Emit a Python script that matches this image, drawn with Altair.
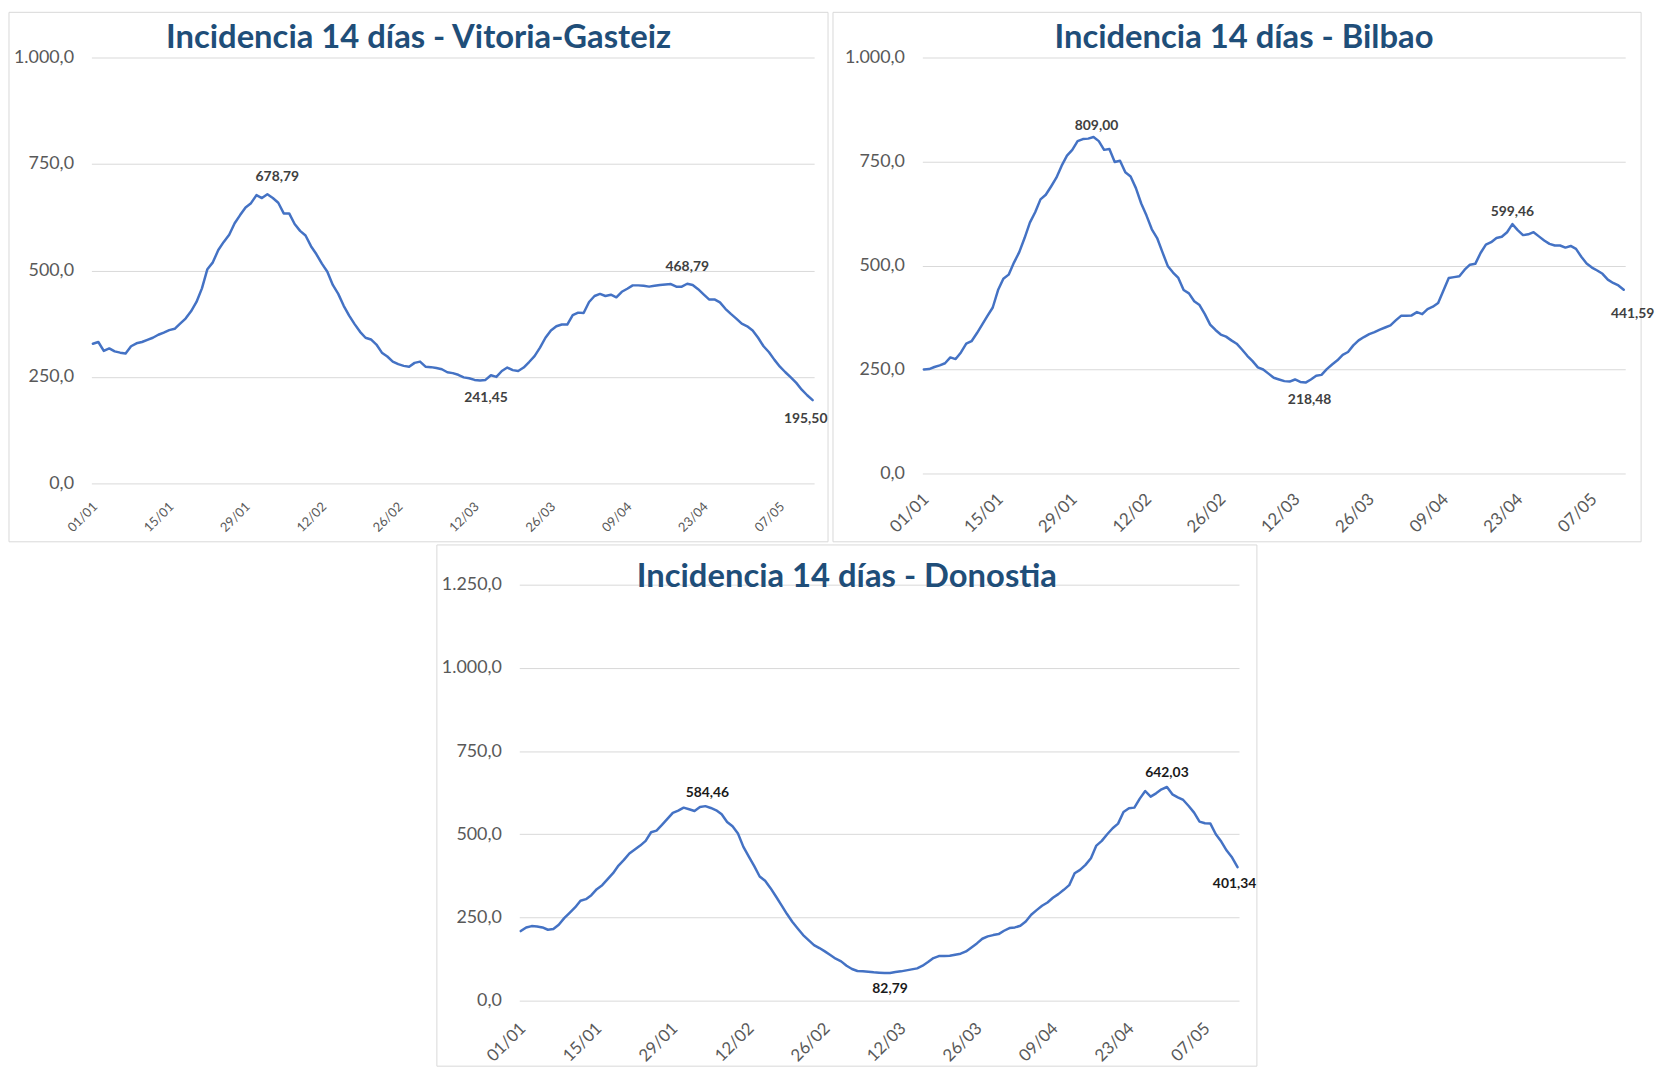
import altair as alt
import pandas as pd

# ---------------- data ----------------
START_DATE = "2021-01-01"
N_DAYS = 133

VITORIA = [
    328, 332, 311, 317, 310, 307, 305, 322, 329, 332,
    337, 342, 349, 354, 360, 363, 375, 387, 404, 426,
    458, 503, 519, 548, 567, 584, 611, 630, 648, 658,
    677, 670, 678.79, 670, 659, 634, 634, 609, 593, 582,
    557, 538, 516, 497, 466, 445, 417, 394, 374, 356,
    342, 338, 326, 307, 298, 286, 280, 276, 274, 283,
    286, 274, 273, 271, 268, 261, 259, 255, 249, 247,
    243, 241.45, 243, 254, 250, 264, 272, 266, 264, 272,
    285, 299, 319, 342, 359, 369, 373, 373, 395, 401,
    400, 426, 440, 445, 440, 443, 437, 450, 457, 465,
    465, 464, 462, 464, 466, 467, 468, 462, 462, 468.79,
    466, 456, 444, 432, 432, 425, 410, 398, 387, 375,
    369, 359, 342, 322, 308, 290, 274, 261, 249, 236,
    220, 207, 195.50,
]

BILBAO = [
    250, 251, 256, 260, 265, 279, 275, 291, 312, 318,
    337, 358, 379, 399, 441, 468, 478, 507, 532, 566,
    603, 628, 659, 670, 690, 711, 740, 764, 778, 799,
    804, 805, 809.00, 799, 778, 780, 749, 752, 724, 714,
    686, 649, 620, 587, 566, 532, 499, 483, 470, 441,
    433, 414, 405, 383, 358, 345, 334, 329, 320, 312,
    298, 283, 270, 255, 250, 240, 230, 226, 222, 221,
    226, 220, 218.48, 226, 235, 237, 251, 262, 272, 285,
    292, 308, 320, 328, 335, 340, 346, 351, 356, 368,
    379, 379, 380, 388, 383, 395, 401, 410, 440, 470,
    472, 474, 490, 502, 504, 530, 550, 556, 566, 569,
    580, 599.46, 585, 573, 575, 580, 570, 560, 552, 548,
    548, 543, 547, 540, 521, 505, 495, 488, 480, 466,
    458, 452, 441.59,
]

DONOSTIA = [
    209, 220, 224, 223, 220, 213, 215, 228, 248, 264,
    280, 300, 305, 317, 335, 347, 365, 383, 406, 423,
    442, 454, 466, 480, 506, 511, 528, 546, 564, 571,
    580, 575, 570, 582, 584.46, 579, 572, 560, 537, 524,
    502, 462, 433, 404, 373, 360, 338, 313, 287, 261,
    237, 217, 197, 182, 167, 158, 148, 137, 126, 118,
    105, 95, 89, 88, 87, 85, 84, 83, 82.79, 86,
    88, 91, 94, 97, 105, 116, 128, 134, 134, 135,
    138, 141, 148, 160, 172, 186, 193, 197, 200, 210,
    218, 220, 225, 238, 258, 272, 285, 295, 309, 320,
    333, 347, 383, 393, 408, 428, 466, 480, 500, 518,
    532, 567, 578, 580, 607, 630, 613, 623, 635, 642.03,
    620, 611, 603, 585, 565, 538, 533, 532, 500, 478,
    451, 430, 401.34,
]

TICK_LABELS = ["01/01", "15/01", "29/01", "12/02", "26/02",
               "12/03", "26/03", "09/04", "23/04", "07/05"]

# annotated points: (day index, label text)
VITORIA_NOTES = [(32, "678,79"), (71, "241,45"), (109, "468,79"), (132, "195,50")]
BILBAO_NOTES = [(32, "809,00"), (72, "218,48"), (111, "599,46"), (132, "441,59")]
DONOSTIA_NOTES = [(34, "584,46"), (68, "82,79"), (119, "642,03"), (132, "401,34")]

# label offsets in pixels (style only): (dx, dy)
VITORIA_OFFS = [(10, -17), (6, 18), (0, -17), (-7, 19)]
BILBAO_OFFS = [(3, -11), (4, 18), (0, -12), (9, 24)]
DONOSTIA_OFFS = [(2, -13), (0, 16), (0, -14), (-3, 17)]

DATES = pd.date_range(START_DATE, periods=N_DAYS, freq="D")

LINE_COLOR = "#4472C4"
TITLE_COLOR = "#1F4E79"
GRID_COLOR = "#D9D9D9"
AXIS_TEXT = "#595959"
FONT = "Lato"

Y_LABEL_EXPR = ("replace(replace(replace(format(datum.value, ',.1f'), ',', ';'), '.', ','), ';', '.')")


def tick_dates():
    out = []
    for t in TICK_LABELS:
        d, m = t.split("/")
        out.append(alt.DateTime(year=2021, month=int(m), date=int(d)))
    return out


def one_row():
    return alt.Chart(pd.DataFrame({"k": [0]}))


def panel(title, values, notes, offs, ymax, w, h, frame, title_xy,
          x_font, x_pad, note_color):
    df = pd.DataFrame({"date": DATES, "value": values})

    x_enc = alt.X(
        "date:T",
        title=None,
        scale=alt.Scale(nice=False, padding=1.5),
        axis=alt.Axis(
            values=tick_dates(), format="%d/%m", labelAngle=315,
            labelAlign="right", labelBaseline="middle",
            labelPadding=x_pad, labelOffset=2,
            labelFont=FONT, labelFontSize=x_font, labelColor=AXIS_TEXT,
            grid=False, domain=False, ticks=False, labelOverlap=False,
        ),
    )
    y_enc = alt.Y(
        "value:Q",
        title=None,
        scale=alt.Scale(domain=[0, ymax], nice=False, zero=True),
        axis=alt.Axis(
            values=list(range(0, ymax + 1, 250)), labelExpr=Y_LABEL_EXPR,
            labelFont=FONT, labelFontSize=18, labelColor=AXIS_TEXT,
            labelPadding=18, grid=True, gridColor=GRID_COLOR, gridWidth=1,
            domain=False, ticks=False,
        ),
    )

    layers = []
    fx0, fy0, fx1, fy1 = frame
    layers.append(one_row().mark_rect(filled=False, stroke=GRID_COLOR, strokeWidth=1).encode(
        x=alt.value(fx0), x2=alt.value(fx1), y=alt.value(fy0), y2=alt.value(fy1)))

    layers.append(alt.Chart(df).mark_line(color=LINE_COLOR, strokeWidth=2.5,
                                          strokeJoin="round", strokeCap="round")
                  .encode(x=x_enc, y=y_enc))

    for (idx, txt), (dx, dy) in zip(notes, offs):
        ndf = pd.DataFrame({"date": [DATES[idx]], "value": [values[idx]], "label": [txt]})
        layers.append(alt.Chart(ndf).mark_text(
            font=FONT, fontWeight="bold", fontSize=14, color=note_color,
            dx=dx, dy=dy, align="center", baseline="middle",
        ).encode(x=alt.X("date:T"), y=alt.Y("value:Q"), text="label:N"))

    tx, ty = title_xy
    layers.append(one_row().mark_text(
        text=title, font=FONT, fontWeight="bold", fontSize=33, color=TITLE_COLOR,
        align="center", baseline="middle",
    ).encode(x=alt.value(tx), y=alt.value(ty)))

    return alt.layer(*layers).properties(width=w, height=h)


vitoria = panel("Incidencia 14 días - Vitoria-Gasteiz", VITORIA, VITORIA_NOTES, VITORIA_OFFS,
                1000, 728, 429, (-83, -45.5, 742, 487.8), (329.5, -20), 13, 21, "#404040")
bilbao = panel("Incidencia 14 días - Bilbao", BILBAO, BILBAO_NOTES, BILBAO_OFFS,
               1000, 708, 419, (-90, -45.5, 724, 487.8), (324, -20), 17, 23, "#404040")
donostia = panel("Incidencia 14 días - Donostia", DONOSTIA, DONOSTIA_NOTES, DONOSTIA_OFFS,
                 1250, 725, 419, (-83, -40, 743, 485), (330, -8), 17, 25, "#1A1A1A")

# empty left spacer (draws nothing) so the bottom panel sits where it does in the original
spacer = one_row().mark_text(text="", opacity=0).encode(
    x=alt.value(0), y=alt.value(0)
).properties(width=347, height=1)

chart = (
    alt.vconcat(
        alt.hconcat(vitoria, bilbao, spacing=3),
        alt.hconcat(spacer, donostia, spacing=0),
        spacing=1,
    )
    .properties(padding=0, background="white")
    .configure_view(strokeWidth=0, stroke=None)
)

chart.save("out.html", embed_options={"renderer": "svg", "actions": False})
